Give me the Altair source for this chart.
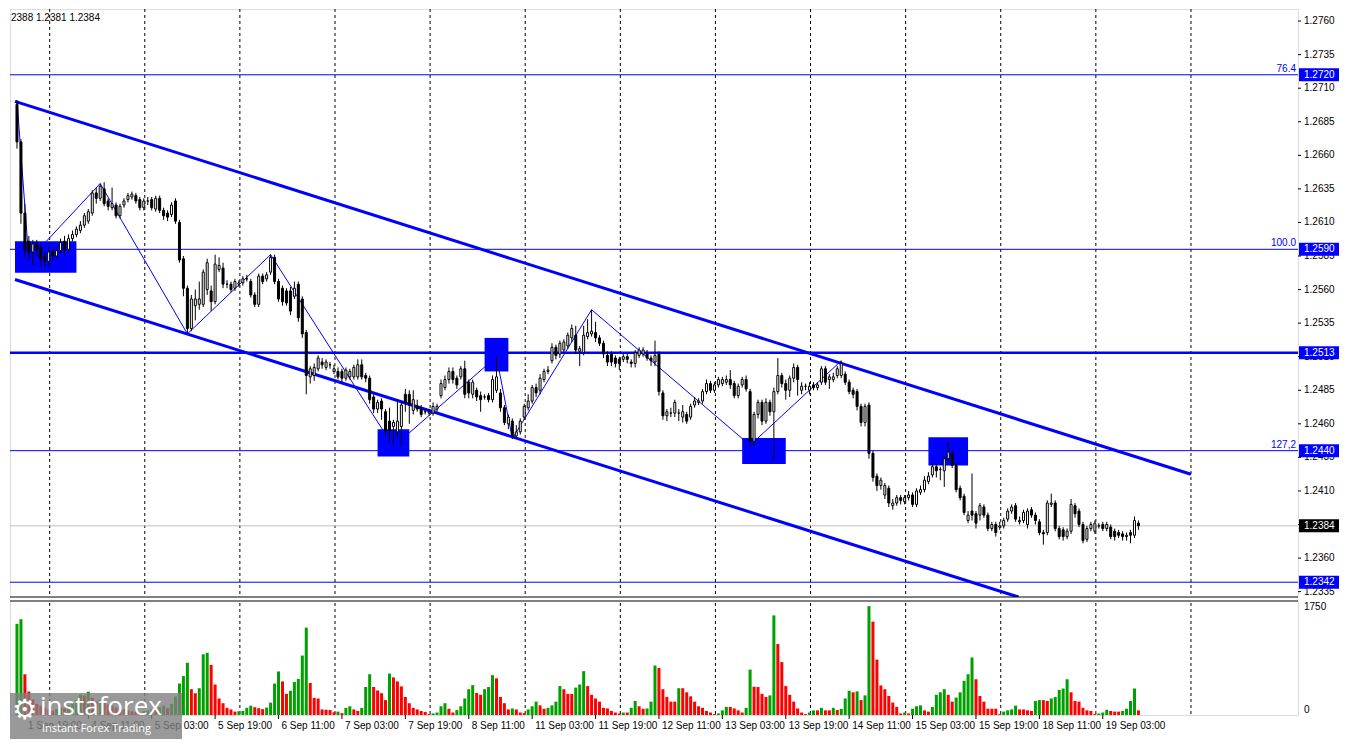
import altair as alt
import pandas as pd

# ---------------- data (H1 candles; each value v means price 1 + v/10000, e.g. 2698 -> 1.2698) ----------------
BASE = 1.0
OPEN = [2698,2670,2617,2596,2588,2594,2591,2584,2581,2588,
        2585,2589,2596,2590,2598,2601,2604,2608,2611,2617,
        2632,2628,2635,2626,2621,2623,2615,2623,2627,2629,
        2630,2627,2621,2626,2627,2620,2628,2619,2617,2616,
        2626,2610,2583,2561,2531,2548,2549,2549,2560,2559,
        2551,2575,2576,2564,2564,2561,2564,2565,2568,2566,
        2556,2549,2570,2568,2573,2584,2566,2561,2559,2559,
        2555,2564,2553,2528,2495,2496,2501,2506,2502,2504,
        2499,2499,2499,2494,2495,2495,2495,2504,2496,2494,
        2480,2471,2477,2469,2462,2458,2454,2458,2482,2482,
        2470,2473,2471,2469,2468,2468,2471,2481,2487,2493,
        2499,2494,2495,2501,2491,2482,2485,2481,2480,2481,
        2478,2485,2483,2472,2460,2462,2451,2454,2465,2472,
        2477,2487,2485,2493,2499,2507,2517,2512,2515,2518,
        2524,2526,2514,2513,2525,2527,2528,2524,2520,2511,
        2512,2509,2508,2508,2510,2506,2505,2511,2512,2512,
        2509,2506,2512,2483,2466,2468,2468,2468,2465,2467,
        2465,2474,2476,2477,2484,2490,2485,2489,2490,2491,
        2493,2490,2481,2489,2493,2484,2447,2467,2476,2462,
        2476,2469,2484,2496,2490,2485,2494,2502,2485,2488,
        2485,2489,2487,2491,2501,2493,2493,2496,2496,2497,
        2491,2485,2484,2473,2461,2474,2438,2421,2414,2407,
        2412,2399,2401,2405,2402,2405,2407,2400,2409,2411,
        2417,2422,2428,2426,2425,2434,2438,2429,2412,2406,
        2388,2395,2393,2392,2398,2392,2382,2385,2383,2384,
        2389,2395,2399,2387,2388,2385,2396,2392,2387,2379,
        2379,2400,2401,2382,2381,2376,2380,2399,2395,2385,
        2374,2382,2380,2384,2385,2382,2383,2380,2379,2378,
        2376,2379,2377,2386]
HIGH = [2701,2672,2624,2600,2597,2597,2594,2588,2592,2590,
        2592,2598,2600,2601,2604,2607,2611,2617,2620,2634,
        2636,2639,2640,2628,2636,2625,2624,2628,2632,2633,
        2632,2629,2628,2629,2629,2630,2630,2621,2619,2625,
        2628,2612,2585,2563,2556,2560,2566,2575,2583,2563,
        2586,2584,2580,2567,2566,2568,2567,2570,2571,2568,
        2558,2572,2572,2573,2586,2586,2568,2563,2561,2562,
        2566,2566,2555,2530,2503,2505,2511,2509,2508,2506,
        2504,2502,2501,2502,2501,2504,2508,2508,2498,2496,
        2482,2478,2479,2471,2472,2463,2478,2476,2486,2485,
        2485,2478,2474,2471,2471,2476,2475,2493,2496,2502,
        2502,2496,2503,2507,2493,2493,2487,2484,2482,2483,
        2496,2510,2486,2474,2467,2464,2459,2464,2475,2482,
        2489,2490,2497,2501,2503,2520,2519,2522,2523,2528,
        2534,2533,2518,2533,2538,2545,2536,2526,2522,2514,
        2514,2511,2510,2512,2512,2508,2515,2517,2517,2515,
        2511,2522,2514,2485,2471,2472,2478,2471,2474,2469,
        2475,2480,2479,2486,2493,2492,2491,2495,2495,2496,
        2500,2492,2490,2495,2496,2486,2469,2478,2478,2479,
        2478,2487,2509,2498,2493,2496,2505,2504,2491,2490,
        2491,2491,2491,2503,2503,2497,2498,2503,2507,2499,
        2493,2487,2486,2475,2475,2476,2440,2423,2420,2416,
        2414,2404,2407,2407,2407,2410,2409,2412,2414,2421,
        2424,2431,2430,2428,2436,2447,2440,2431,2414,2408,
        2395,2423,2395,2401,2400,2394,2387,2387,2387,2390,
        2397,2400,2401,2391,2396,2397,2398,2394,2389,2381,
        2403,2408,2403,2384,2383,2382,2404,2401,2397,2387,
        2384,2387,2388,2386,2387,2387,2385,2382,2381,2380,
        2379,2381,2391,2388]
LOW = [2665,2609,2584,2582,2578,2585,2578,2577,2577,2582,
       2583,2587,2586,2588,2596,2599,2602,2606,2609,2615,
       2624,2626,2622,2619,2619,2613,2613,2621,2625,2627,
       2624,2619,2619,2623,2619,2618,2617,2612,2611,2614,
       2609,2580,2555,2527,2529,2537,2545,2547,2556,2544,
       2549,2573,2561,2561,2558,2559,2562,2563,2566,2554,
       2547,2547,2564,2566,2571,2564,2551,2548,2548,2541,
       2553,2536,2524,2482,2490,2492,2499,2501,2500,2501,
       2497,2493,2491,2492,2493,2493,2493,2493,2491,2475,
       2468,2468,2463,2451,2447,2443,2449,2444,2469,2460,
       2467,2469,2465,2467,2466,2466,2469,2479,2485,2490,
       2490,2486,2493,2479,2479,2479,2477,2469,2478,2476,
       2476,2483,2469,2459,2456,2449,2450,2452,2463,2470,
       2475,2480,2482,2491,2497,2505,2508,2509,2513,2516,
       2521,2512,2503,2511,2523,2525,2521,2518,2509,2503,
       2503,2502,2500,2506,2505,2502,2502,2509,2510,2507,
       2503,2503,2481,2463,2462,2465,2465,2462,2461,2460,
       2463,2472,2474,2475,2482,2483,2483,2487,2488,2489,
       2486,2479,2479,2487,2484,2444,2443,2464,2459,2460,
       2466,2433,2482,2487,2478,2480,2491,2481,2482,2485,
       2482,2485,2485,2489,2489,2486,2491,2494,2494,2489,
       2482,2479,2470,2458,2458,2434,2417,2410,2411,2404,
       2398,2396,2399,2400,2400,2403,2398,2398,2407,2409,
       2415,2420,2420,2418,2413,2432,2427,2409,2403,2392,
       2386,2388,2382,2388,2390,2380,2380,2376,2381,2382,
       2387,2393,2387,2385,2386,2382,2390,2385,2377,2370,
       2377,2398,2380,2374,2373,2374,2378,2390,2383,2371,
       2372,2380,2378,2382,2380,2380,2374,2373,2375,2373,
       2373,2371,2375,2381]
CLOSE = [2670,2617,2590,2588,2594,2590,2583,2581,2588,2585,
         2589,2595,2590,2598,2601,2605,2608,2615,2618,2632,
         2628,2637,2624,2622,2624,2615,2622,2626,2630,2631,
         2626,2621,2626,2626,2621,2628,2619,2615,2614,2623,
         2611,2582,2561,2531,2553,2553,2553,2573,2580,2551,
         2579,2578,2564,2564,2560,2566,2565,2568,2568,2556,
         2549,2570,2566,2571,2584,2566,2553,2551,2550,2544,
         2561,2539,2527,2496,2501,2502,2509,2504,2506,2504,
         2501,2495,2494,2500,2499,2502,2504,2495,2494,2478,
         2471,2476,2471,2455,2455,2461,2462,2474,2476,2474,
         2478,2471,2467,2469,2469,2473,2473,2490,2493,2499,
         2493,2489,2501,2482,2483,2491,2480,2478,2480,2478,
         2493,2495,2472,2461,2465,2451,2454,2462,2473,2477,
         2487,2483,2494,2499,2500,2517,2511,2520,2521,2526,
         2531,2515,2516,2526,2528,2529,2524,2520,2512,2506,
         2506,2505,2505,2510,2508,2505,2513,2515,2515,2509,
         2507,2511,2484,2466,2469,2468,2476,2468,2469,2462,
         2473,2477,2477,2484,2490,2485,2489,2493,2493,2493,
         2489,2481,2488,2493,2486,2447,2467,2476,2462,2476,
         2469,2484,2496,2490,2485,2494,2502,2493,2488,2488,
         2488,2487,2489,2501,2491,2495,2495,2501,2505,2491,
         2484,2482,2473,2461,2473,2438,2420,2414,2418,2414,
         2401,2401,2405,2403,2405,2407,2400,2410,2411,2418,
         2421,2428,2425,2426,2434,2439,2429,2411,2405,2394,
         2392,2392,2386,2399,2392,2382,2385,2379,2384,2388,
         2395,2398,2389,2388,2394,2395,2392,2388,2379,2378,
         2401,2401,2382,2376,2376,2380,2400,2393,2385,2373,
         2382,2385,2386,2384,2382,2385,2376,2376,2377,2376,
         2377,2377,2388,2384]
VOLUME = [1474,1549,659,380,250,180,150,120,90,70,
          100,130,110,160,200,240,330,317,377,280,
          220,250,200,170,150,120,100,90,80,60,
          50,40,60,70,90,80,120,150,110,180,
          300,508,629,845,417,352,433,981,1006,810,
          493,267,191,116,90,55,60,65,116,151,
          126,110,95,120,200,508,704,543,342,392,
          533,583,961,1413,518,277,267,90,85,80,
          45,55,30,115,141,90,65,115,453,659,
          453,397,352,241,669,608,543,462,291,191,
          116,90,65,50,15,25,40,141,191,101,
          40,80,141,267,417,483,357,327,417,453,
          644,593,292,191,90,106,90,40,30,90,
          141,216,156,101,116,156,216,468,417,342,
          342,443,493,709,468,327,267,216,116,106,
          65,40,25,40,40,116,226,141,101,106,
          216,800,760,417,292,216,216,433,433,367,
          302,216,141,116,65,40,15,25,75,131,
          131,106,75,40,116,734,458,453,342,292,
          317,1610,1147,856,468,327,216,106,40,15,
          40,75,75,116,75,75,116,80,100,267,
          392,367,382,241,317,1760,1509,895,478,417,
          307,201,131,25,40,25,101,141,156,75,
          55,131,327,367,417,327,216,282,367,553,
          659,930,578,307,216,101,101,101,15,55,
          75,90,151,90,90,75,65,226,241,241,
          226,267,292,407,428,578,367,226,216,116,
          75,65,15,25,40,85,65,55,55,65,
          101,226,428,75]

TIME_LABEL_BARS = [2, 18, 34, 50, 66, 82, 98, 114, 130, 146, 162, 178, 194, 210, 226, 242, 258, 274]
TIME_LABELS = ["1 Sep 19:00", "4 Sep 11:00", "5 Sep 03:00", "5 Sep 19:00", "6 Sep 11:00",
               "7 Sep 03:00", "7 Sep 19:00", "8 Sep 11:00", "11 Sep 03:00", "11 Sep 19:00",
               "12 Sep 11:00", "13 Sep 03:00", "13 Sep 19:00", "14 Sep 11:00", "15 Sep 03:00",
               "15 Sep 19:00", "18 Sep 11:00", "19 Sep 03:00"]
DAY_SEPARATORS = [8.25, 32.25, 56.25, 80.25, 104.25, 128.25, 152.25, 176.25, 200.25,
                  224.25, 248.25, 272.25, 296.25]
PRICE_TICKS = [1.2335, 1.2360, 1.2385, 1.2410, 1.2435, 1.2460, 1.2485, 1.2510, 1.2535,
               1.2560, 1.2585, 1.2610, 1.2635, 1.2660, 1.2685, 1.2710, 1.2735, 1.2760]
PRICE_TICK_TEXT = ["1.2335", "1.2360", "1.2385", "1.2410", "1.2435", "1.2460", "1.2485", "1.2510",
                   "1.2535", "1.2560", "1.2585", "1.2610", "1.2635", "1.2660", "1.2685", "1.2710",
                   "1.2735", "1.2760"]
VOLUME_TOP_LABEL = 1750

LEVEL_PRICES = [1.2720, 1.2590, 1.2513, 1.2440, 1.2342]
LEVEL_WIDTHS = [1, 1, 2.5, 1, 1]
FIB_PRICES = [1.2720, 1.2590, 1.2440]
FIB_TEXT = ["76.4", "100.0", "127,2"]
CURRENT_PRICE = 1.2384
TAG_PRICES = [1.2720, 1.2590, 1.2513, 1.2440, 1.2384, 1.2342]
TAG_TEXT = ["1.2720", "1.2590", "1.2513", "1.2440", "1.2384", "1.2342"]
TAG_BG = ["#0000ff", "#0000ff", "#0000ff", "#0000ff", "#000000", "#0000ff"]

CHANNEL_X1 = [-0.5, -0.5]
CHANNEL_Y1 = [1.27002, 1.25675]
CHANNEL_X2 = [296.25, 252.75]
CHANNEL_Y2 = [1.24224, 1.2331]

ZIGZAG_BARS = [0, 3, 21, 43, 64, 95, 121, 125, 145, 185, 208]
ZIGZAG_PRICES = [1.2701, 1.2582, 1.2639, 1.2527, 1.2586, 1.2443, 1.2510, 1.2449, 1.2545, 1.2444, 1.2507]

BOX_X1 = [-0.5, 91, 118, 183, 230]
BOX_X2 = [15, 99, 124, 194, 240]
BOX_Y1 = [1.2596, 1.2456, 1.2524, 1.24495, 1.2450]
BOX_Y2 = [1.25725, 1.24356, 1.2499, 1.2430, 1.2429]

HEADER = "2388 1.2381 1.2384"

# ---------------- frames ----------------
n = len(OPEN)
candles = pd.DataFrame({
    "bar": list(range(n)),
    "o": [BASE + v / 10000 for v in OPEN],
    "h": [BASE + v / 10000 for v in HIGH],
    "l": [BASE + v / 10000 for v in LOW],
    "c": [BASE + v / 10000 for v in CLOSE],
})
candles["bodycol"] = ["white" if c >= o else "black" for o, c in zip(OPEN, CLOSE)]

vol = pd.DataFrame({"bar": list(range(n)), "vol": VOLUME})
vol["vc"] = ["#00a000" if i == 0 or VOLUME[i] > VOLUME[i - 1] else "#ff0000" for i in range(n)]

seps = pd.DataFrame({"x": DAY_SEPARATORS})
levels = pd.DataFrame({"p": LEVEL_PRICES, "w": LEVEL_WIDTHS})
fibs = pd.DataFrame({"p": FIB_PRICES, "t": FIB_TEXT})
cur = pd.DataFrame({"p": [CURRENT_PRICE]})
tags = pd.DataFrame({"p": TAG_PRICES, "t": TAG_TEXT, "bg": TAG_BG})
ticks = pd.DataFrame({"p": PRICE_TICKS, "t": PRICE_TICK_TEXT})
channel = pd.DataFrame({"x1": CHANNEL_X1, "y1": CHANNEL_Y1, "x2": CHANNEL_X2, "y2": CHANNEL_Y2})
zigzag = pd.DataFrame({"bar": ZIGZAG_BARS, "p": ZIGZAG_PRICES})
boxes = pd.DataFrame({"x1": BOX_X1, "x2": BOX_X2, "y1": BOX_Y1, "y2": BOX_Y2})
one = pd.DataFrame({"t": [HEADER], "a": ["instaforex"], "b": ["Instant Forex Trading"],
                    "g": ["\u2699"], "v": [VOLUME_TOP_LABEL], "z": [0]})
tlabels = pd.DataFrame({"bar": TIME_LABEL_BARS, "t": TIME_LABELS})

# ---------------- layout (one plot: price pane on top, volume pane below) ----------------
W = 1288
H1, GAP, H2 = 588, 4, 114
HT = H1 + GAP + H2
FONT = "Liberation Sans"
BLUE = "#0000ff"
P_TOP, P_BOT = 1.2769, 1.2331
p_low = P_BOT - (P_TOP - P_BOT) * (GAP + H2) / H1
V_TOP = 1843
v_high = V_TOP * HT / H2

xs = alt.Scale(domain=[-0.5, 322], nice=False, zero=False)
ps = alt.Scale(domain=[p_low, P_TOP], nice=False, zero=False)
vs = alt.Scale(domain=[0, v_high], nice=False, zero=False)


def X(f):
    return alt.X(f, scale=xs, axis=None)


def Y(f):
    return alt.Y(f, scale=ps, axis=None)


layers = []
layers.append(alt.Chart(seps).mark_rule(color="black", strokeWidth=1, strokeDash=[3, 3]).encode(x=X("x:Q")))
layers.append(alt.Chart(levels).mark_rule(color=BLUE).encode(
    y=Y("p:Q"), strokeWidth=alt.StrokeWidth("w:Q", scale=None)))
layers.append(alt.Chart(cur).mark_rule(color="#c0c0c0", strokeWidth=1).encode(y=Y("p:Q")))
layers.append(alt.Chart(channel).mark_rule(color=BLUE, strokeWidth=3).encode(
    x=X("x1:Q"), x2="x2:Q", y=Y("y1:Q"), y2="y2:Q"))
layers.append(alt.Chart(zigzag).mark_line(color=BLUE, strokeWidth=1).encode(x=X("bar:Q"), y=Y("p:Q")))
layers.append(alt.Chart(boxes).mark_rect(color=BLUE).encode(x=X("x1:Q"), x2="x2:Q", y=Y("y1:Q"), y2="y2:Q"))
layers.append(alt.Chart(candles).mark_rule(color="black", strokeWidth=1).encode(
    x=X("bar:Q"), y=Y("l:Q"), y2="h:Q"))
layers.append(alt.Chart(candles).mark_bar(width=2, stroke="black", strokeWidth=1).encode(
    x=X("bar:Q"), y=Y("o:Q"), y2="c:Q", fill=alt.Fill("bodycol:N", scale=None)))
# gap between panes
layers.append(alt.Chart(one).mark_rect(color="white").encode(
    x=alt.value(-1), x2=alt.value(W + 1), y=alt.value(H1), y2=alt.value(H1 + GAP)))
layers.append(alt.Chart(one).mark_rule(color="black", strokeWidth=1).encode(
    x=alt.value(0), x2=alt.value(W), y=alt.value(H1)))
layers.append(alt.Chart(one).mark_rule(color="black", strokeWidth=1).encode(
    x=alt.value(0), x2=alt.value(W), y=alt.value(H1 + GAP)))
# volume bars
layers.append(alt.Chart(vol).mark_bar(width=3).encode(
    x=X("bar:Q"), y=alt.Y("vol:Q", scale=vs, axis=None), y2=alt.datum(0),
    color=alt.Color("vc:N", scale=None)))
# price scale ticks and labels (right side)
layers.append(alt.Chart(ticks).mark_rule(color="black", strokeWidth=1).encode(
    x=alt.value(W), x2=alt.value(W + 3), y=Y("p:Q")))
layers.append(alt.Chart(ticks).mark_text(align="left", baseline="middle", color="black",
                                         font=FONT, fontSize=10).encode(
    x=alt.value(W + 6), y=Y("p:Q"), text="t:N"))
layers.append(alt.Chart(tags).mark_rect(yOffset=-6.5, y2Offset=6.5).encode(
    x=alt.value(W + 1), x2=alt.value(W + 41), y=Y("p:Q"), y2=alt.Y2("p:Q"),
    color=alt.Color("bg:N", scale=None)))
layers.append(alt.Chart(tags).mark_text(align="left", baseline="middle", color="white",
                                        font=FONT, fontSize=10).encode(
    x=alt.value(W + 6), y=Y("p:Q"), text="t:N"))
layers.append(alt.Chart(fibs).mark_text(align="right", baseline="bottom", dy=-1, color=BLUE,
                                        font=FONT, fontSize=10).encode(
    x=alt.value(W - 2), y=Y("p:Q"), text="t:N"))
layers.append(alt.Chart(one).mark_text(align="left", baseline="middle", color="black",
                                       font=FONT, fontSize=10).encode(
    x=alt.value(1), y=alt.value(9), text="t:N"))
# volume labels
layers.append(alt.Chart(one).mark_text(align="left", baseline="middle", color="black",
                                       font=FONT, fontSize=10).encode(
    x=alt.value(W + 6), y=alt.Y("v:Q", scale=vs, axis=None), text="v:N"))
layers.append(alt.Chart(one).mark_text(align="left", baseline="bottom", color="black",
                                       font=FONT, fontSize=10).encode(
    x=alt.value(W + 6), y=alt.value(HT), text="z:N"))
# time axis
layers.append(alt.Chart(tlabels).mark_rule(color="black", strokeWidth=1).encode(
    x=X("bar:Q"), y=alt.value(HT), y2=alt.value(HT + 4)))
layers.append(alt.Chart(tlabels).mark_text(align="left", baseline="middle", dx=3, color="black",
                                           font=FONT, fontSize=10).encode(
    x=X("bar:Q"), y=alt.value(HT + 11), text="t:N"))
# watermark
layers.append(alt.Chart(one).mark_rect(color="#7f7f7f", opacity=0.8).encode(
    x=alt.value(0), x2=alt.value(172), y=alt.value(HT - 22), y2=alt.value(HT + 24)))
layers.append(alt.Chart(one).mark_text(align="left", baseline="middle", color="white",
                                       font="DejaVu Sans", fontSize=28).encode(
    x=alt.value(2), y=alt.value(HT - 4), text="g:N"))
layers.append(alt.Chart(one).mark_text(align="left", baseline="middle", color="white",
                                       font="Open Sans", fontSize=26).encode(
    x=alt.value(30), y=alt.value(HT - 8), text="a:N"))
layers.append(alt.Chart(one).mark_text(align="left", baseline="middle", color="white",
                                       font="Open Sans", fontSize=11).encode(
    x=alt.value(32), y=alt.value(HT + 14), text="b:N"))

chart = alt.layer(*layers).resolve_scale(y="independent").properties(
    width=W, height=HT, padding=0
).configure_view(stroke="black", strokeWidth=1).configure(background="white")

chart.save("out.html", embed_options={"renderer": "svg", "actions": False})
